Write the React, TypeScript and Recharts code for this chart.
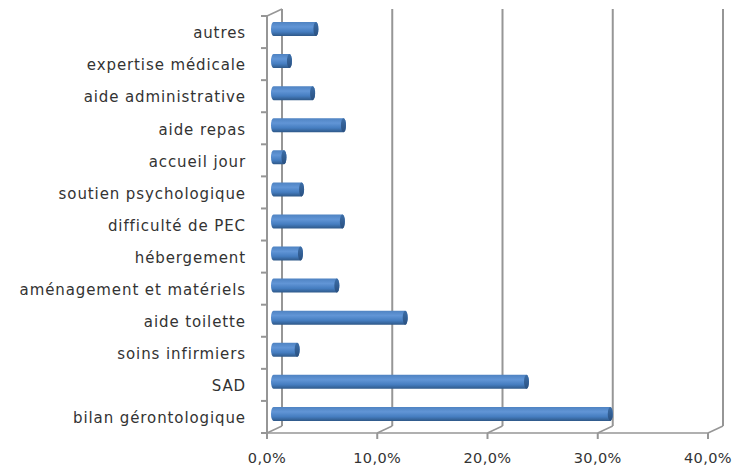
import { Bar, BarChart, CartesianGrid, XAxis, YAxis } from 'recharts';

const categories = [
  'autres',
  'expertise médicale',
  'aide administrative',
  'aide repas',
  'accueil jour',
  'soutien psychologique',
  'difficulté de PEC',
  'hébergement',
  'aménagement et matériels',
  'aide toilette',
  'soins infirmiers',
  'SAD',
  'bilan gérontologique',
];
const values = [4.3, 1.9, 4.0, 6.8, 1.4, 3.0, 6.7, 2.9, 6.2, 12.4, 2.6, 23.4, 31.0];
const xTicks = [0, 10, 20, 30, 40];

const data = categories.map((name, i) => ({ name, value: values[i] }));

const GREY = '#969696';
const TEXT = '#333333';
const FONT = '"DejaVu Sans", sans-serif';
const BAND = 417 / 13;
const DEPTH_X = 15;
const DEPTH_Y = 7;

// back wall line + floor diagonal, fake 3d like the excel chart
const BackLine = (props: any) => {
  const { x1, y1, y2 } = props;
  const isFirst = Math.abs(x1 - 267) < 1;
  return (
    <g stroke={GREY} strokeWidth={2} fill='none'>
      <line x1={x1 + DEPTH_X} y1={y1 - DEPTH_Y} x2={x1 + DEPTH_X} y2={y2 - DEPTH_Y} />
      <line x1={x1} y1={y2} x2={x1 + DEPTH_X} y2={y2 - DEPTH_Y} strokeWidth={1.5} />
      {isFirst && (
        <line x1={x1} y1={y1} x2={x1 + DEPTH_X} y2={y1 - DEPTH_Y} strokeWidth={1.5} />
      )}
    </g>
  );
};

const CategoryTick = (props: any) => {
  const { x, y, payload, index } = props;
  const axisX = x + 8;
  return (
    <g>
      <line x1={axisX - 6} x2={axisX} y1={y - BAND / 2} y2={y - BAND / 2} stroke={GREY} strokeWidth={2} />
      {index === categories.length - 1 && (
        <line x1={axisX - 6} x2={axisX} y1={y + BAND / 2} y2={y + BAND / 2} stroke={GREY} strokeWidth={2} />
      )}
      <text
        x={246}
        y={y + 1}
        dy='0.35em'
        textAnchor='end'
        fontFamily={FONT}
        fontSize={15}
        letterSpacing={0.9}
        fill={TEXT}
      >
        {payload.value}
      </text>
    </g>
  );
};

const Cylinder = (props: any) => {
  const { x, y, width, height } = props;
  const left = x + 4;
  const top = y - 3;
  const rx = 2.5;
  const right = left + width;
  const bottom = top + height;
  const mid = top + height / 2;
  return (
    <g>
      <path
        d={`M${left + rx},${top} L${right - rx},${top} A${rx},${height / 2} 0 0 1 ${right - rx},${bottom} L${left + rx},${bottom} A${rx},${height / 2} 0 0 1 ${left + rx},${top} Z`}
        fill='url(#cyl)'
      />
      <ellipse cx={right - rx} cy={mid} rx={rx} ry={height / 2} fill='url(#cap)' />
    </g>
  );
};

export default function App() {
  return (
    <div style={{ position: 'absolute', left: 0, top: 0, width: 738, height: 465, background: '#fff' }}>
      <BarChart
        width={738}
        height={465}
        data={data}
        layout='vertical'
        margin={{ top: 16, right: 30, bottom: 0, left: 0 }}
        barSize={14}
      >
        <defs>
          <linearGradient id='cyl' x1='0' y1='0' x2='0' y2='1'>
            <stop offset='0%' stopColor='#4f83c2' />
            <stop offset='35%' stopColor='#6195d6' />
            <stop offset='70%' stopColor='#457dc0' />
            <stop offset='100%' stopColor='#2e5888' />
          </linearGradient>
          <linearGradient id='cap' x1='0' y1='0' x2='0' y2='1'>
            <stop offset='0%' stopColor='#3c6ea8' />
            <stop offset='100%' stopColor='#2a5080' />
          </linearGradient>
        </defs>
        <CartesianGrid horizontal={false} vertical={BackLine} />
        <XAxis
          type='number'
          domain={[0, 40]}
          ticks={xTicks}
          height={32}
          interval={0}
          axisLine={{ stroke: GREY, strokeWidth: 1.5 }}
          tickLine={{ stroke: GREY, strokeWidth: 2 }}
          tickSize={6}
          tickMargin={14}
          tickFormatter={(v: number) => `${v.toFixed(1).replace('.', ',')}%`}
          tick={{ fontFamily: FONT, fontSize: 14.5, fill: TEXT, letterSpacing: 0.4 }}
        />
        <YAxis
          type='category'
          dataKey='name'
          width={267}
          interval={0}
          axisLine={{ stroke: GREY, strokeWidth: 2 }}
          tickLine={false}
          tick={CategoryTick}
        />
        <Bar dataKey='value' isAnimationActive={false} shape={Cylinder} />
      </BarChart>
    </div>
  );
}
